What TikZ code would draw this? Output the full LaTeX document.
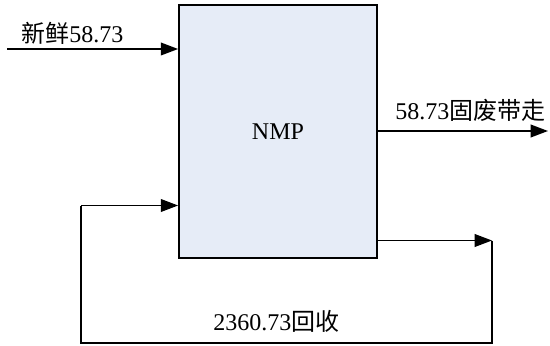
\documentclass[tikz,border=0pt]{standalone}
\usepackage{fontspec}
\setmainfont{Liberation Serif}
\newfontfamily\cjk{Noto Sans CJK SC}
\usetikzlibrary{arrows.meta}
\definecolor{boxfill}{RGB}{230,236,247}
\begin{document}
\begin{tikzpicture}[x=0.75pt, y=-0.75pt, font=\fontsize{18}{21}\selectfont]

	% Define custom styles for the unit and the streams
	\tikzstyle{unit} = [rectangle, draw=black, line width=1.3pt, fill=boxfill, minimum width=148.5pt, minimum height=189.75pt]
	\tikzstyle{stream} = [line width=1.3pt, -{Triangle[length=13pt, width=9.5pt]}]
	\tikzstyle{pipe} = [line width=1.3pt]
	\tikzstyle{tag} = [inner sep=0pt, anchor=base west]

	\useasboundingbox (0,0) rectangle (550,346);

	% The unit
	\node[unit] (nmp) at (278,131.5) {NMP};

	% Free ends and corners of the streams
	\coordinate (fresh) at (7,49);
	\coordinate (waste) at (548,131);
	\coordinate (back) at (492,240.5);
	\coordinate (corner) at (81,343);
	\coordinate (rise) at (81,205.5);

	% Streams
	\draw[stream] (fresh) -- (fresh -| nmp.west);
	\draw[stream] (nmp.east |- waste) -- (waste);
	\draw[stream] (nmp.east |- back) -- (back);
	\draw[pipe] (back) |- (corner) -- (rise);
	\draw[stream] (rise) -- (rise -| nmp.west);

	% Labels
	\node[tag] (freshlabel) at (21,43) {{\cjk 新鲜}58.73};
	\node[tag] (wastelabel) at (395,119) {58.73{\cjk 固废带走}};
	\node[tag] (backlabel) at (213,330) {2360.73{\cjk 回收}};

\end{tikzpicture}
\end{document}
